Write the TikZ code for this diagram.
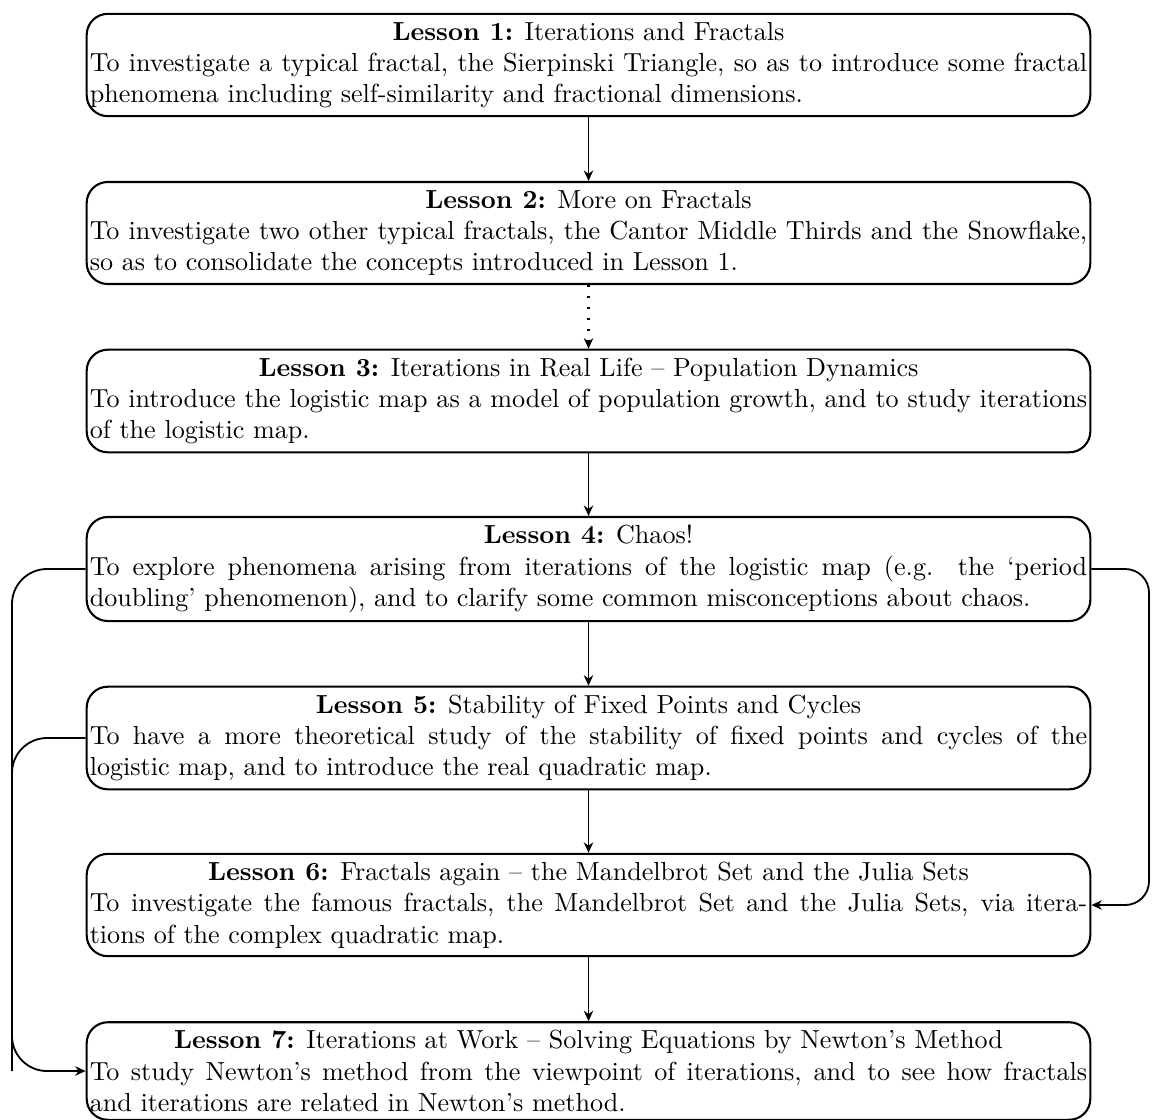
\documentclass[tikz,border=0pt]{standalone}
\usetikzlibrary{arrows.meta}
\begin{document}
\begin{tikzpicture}[x=0.383pt,y=-0.383pt,
  lesson/.style={draw, line width=0.8pt, rounded corners=8.1pt, text width=382pt,
    align=justify, inner xsep=1.2pt, inner ysep=3.1pt,
    execute at begin node={\setlength{\parindent}{0pt}}},
  conn/.style={line width=0.7pt, -{Stealth[length=4pt,width=3.6pt,inset=1.3pt]}},
  dotconn/.style={line width=0.8pt, dash pattern=on 0.9pt off 3.3pt,
    -{Stealth[length=4pt,width=3.6pt,inset=1.3pt]}},
  link/.style={line width=0.7pt}]
\useasboundingbox (0,0) rectangle (1153,1119);
\node[lesson] (l1) at (588.5,65) {{\centering\textbf{Lesson 1:} Iterations and Fractals\par}
To investigate a typical fractal, the Sierpinski Triangle, so as to introduce some fractal phenomena including self-similarity and fractional dimensions.};
\node[lesson] (l2) at (588.5,233) {{\centering\textbf{Lesson 2:} More on Fractals\par}
To investigate two other typical fractals, the Cantor Middle Thirds and the Snowflake, so as to consolidate the concepts introduced in Lesson 1.};
\node[lesson] (l3) at (588.5,401) {{\centering\textbf{Lesson 3:} Iterations in Real Life -- Population Dynamics\par}
To introduce the logistic map as a model of population growth, and to study iterations of the logistic map.};
\node[lesson] (l4) at (588.5,569) {{\centering\textbf{Lesson 4:} Chaos!\par}
To explore phenomena arising from iterations of the logistic map (e.g. the `period doubling' phenomenon), and to clarify some common misconceptions about chaos.};
\node[lesson] (l5) at (588.5,738) {{\centering\textbf{Lesson 5:} Stability of Fixed Points and Cycles\par}
To have a more theoretical study of the stability of fixed points and cycles of the\linebreak{} logistic map, and to introduce the real quadratic map.};
\node[lesson] (l6) at (588.5,905) {{\centering\textbf{Lesson 6:} Fractals again -- the Mandelbrot Set and the Julia Sets\par}
To investigate the famous fractals, the Mandelbrot Set and the Julia Sets, via itera-\linebreak tions of the complex quadratic map.};
\node[lesson] (l7) at (588.5,1071) {{\centering\textbf{Lesson 7:} Iterations at Work -- Solving Equations by Newton's Method\par}
To study Newton's method from the viewpoint of iterations, and to see how fractals\linebreak{} and iterations are related in Newton's method.};
\coordinate (lx) at (12,0);
\coordinate (rx) at (1149,0);
\draw[conn] (l1.south) -- (l2.north);
\draw[dotconn] (l2.south) -- (l3.north);
\draw[conn] (l3.south) -- (l4.north);
\draw[conn] (l4.south) -- (l5.north);
\draw[conn] (l5.south) -- (l6.north);
\draw[conn] (l6.south) -- (l7.north);
\draw[conn, rounded corners=13.4pt] (l4.west) -| (lx |- l7.west) -- (l7.west);
\draw[link, rounded corners=13.4pt] (l5.west) -| (lx |- l7.west);
\draw[conn, rounded corners=9.1pt] (l4.east) -| (rx |- l6.east) -- (l6.east);
\end{tikzpicture}
\end{document}
